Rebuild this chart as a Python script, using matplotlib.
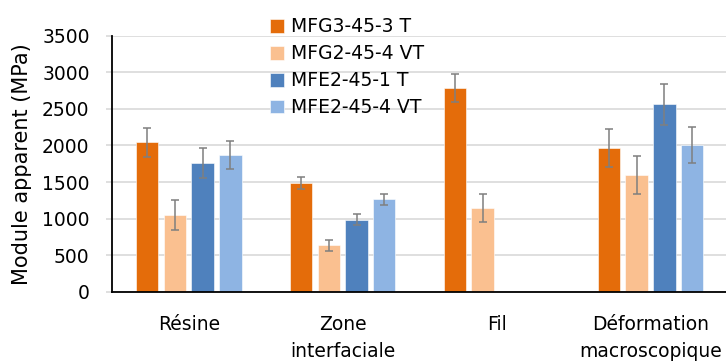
import numpy as np
import matplotlib.pyplot as plt

# Data
categories = ["Résine", "Zone\ninterfaciale", "Fil", "Déformation\nmacroscopique"]
series = ["MFG3-45-3 T", "MFG2-45-4 VT", "MFE2-45-1 T", "MFE2-45-4 VT"]
values = [
    [2040, 1490, 2780, 1965],
    [1045, 635, 1145, 1595],
    [1760, 985, np.nan, 2560],
    [1870, 1265, np.nan, 2010],
]
errors = [
    [195, 80, 190, 260],
    [205, 75, 195, 260],
    [200, 75, np.nan, 275],
    [195, 75, np.nan, 245],
]
colors = ["#E46C0A", "#FAC090", "#4F81BD", "#8EB4E3"]

plt.rcParams["font.family"] = ["DejaVu Sans"]
fs = 13.5

fig = plt.figure(figsize=(7.26, 3.63), dpi=100)
ax = fig.add_axes([0.154, 0.196, 0.848, 0.706])

x = np.arange(len(categories))
pitch = 0.18
width = 0.146
for i in range(len(series)):
    pos = x + (i - 1.5) * pitch
    ax.bar(pos, values[i], width, color=colors[i], edgecolor="white", linewidth=0.4,
           label=series[i], zorder=2)
    ax.errorbar(pos, values[i], yerr=errors[i], fmt="none", ecolor="#7F7F7F",
                elinewidth=1.1, capsize=3, capthick=1.1, zorder=3)

ax.set_xlim(-0.5, 3.5)
ax.set_ylim(0, 3500)
ax.set_yticks(np.arange(0, 3501, 500))
ax.set_xticks(x)
ax.set_xticklabels(categories, fontsize=fs, linespacing=1.5)
ax.tick_params(axis="y", labelsize=fs, length=4, color="#D9D9D9", width=1.2, pad=12)
ax.tick_params(axis="x", length=0, pad=17)
ax.set_ylabel("Module apparent (MPa)", fontsize=15, labelpad=7)
ax.yaxis.grid(True, color="#D9D9D9", linewidth=1.2, zorder=0)
ax.set_axisbelow(True)
for s in ["top", "right"]:
    ax.spines[s].set_visible(False)
ax.spines["left"].set_color("black")
ax.spines["bottom"].set_color("black")
ax.spines["left"].set_linewidth(1.3)
ax.spines["bottom"].set_linewidth(1.3)

ax.legend(loc="upper left", bbox_to_anchor=(0.244, 1.1), frameon=False, fontsize=fs,
          handlelength=0.75, handleheight=0.75, handletextpad=0.4, labelspacing=0.42,
          borderaxespad=0)

fig.savefig("out.png", dpi=100)
